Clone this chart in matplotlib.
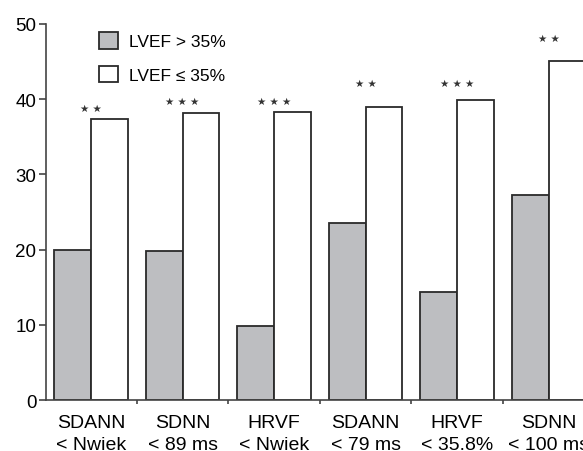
import numpy as np
import matplotlib
matplotlib.use("Agg")
import matplotlib.pyplot as plt
from matplotlib.ticker import FixedLocator

plt.rcParams['font.family'] = ['Liberation Sans Narrow', 'Liberation Sans', 'DejaVu Sans']

# data
categories = ["SDANN\n< Nwiek", "SDNN\n< 89 ms", "HRVF\n< Nwiek",
              "SDANN\n< 79 ms", "HRVF\n< 35.8%", "SDNN\n< 100 ms"]
lvef_high = [20.0, 19.8, 9.8, 23.5, 14.4, 27.3]    # LVEF > 35%
lvef_low = [37.4, 38.1, 38.3, 38.9, 39.9, 45.1]    # LVEF <= 35%
stars = ["★ ★", "★ ★ ★", "★ ★ ★", "★ ★", "★ ★ ★", "★ ★"]
star_y = [38.9, 39.8, 39.8, 42.1, 42.1, 48.1]

gray = "#bdbec1"
edge = "#2a2a2a"
w = 0.404

fig = plt.figure(figsize=(5.83, 4.52), dpi=100)
ax = fig.add_axes([0.0789, 0.1128, 0.9211, 0.8319])

x = np.arange(len(categories))
ax.bar(x - w / 2, lvef_high, w, color=gray, edgecolor=edge, linewidth=1.3,
       label="LVEF > 35%")
ax.bar(x + w / 2, lvef_low, w, color="white", edgecolor=edge, linewidth=1.3,
       label="LVEF ≤ 35%")

for xi, s, sy in zip(x, stars, star_y):
    ax.text(xi, sy, s, ha="center", va="center", fontsize=7.5,
            color="#333333", family=['DejaVu Sans'])

ax.set_xlim(-0.492, 5.377)
ax.set_ylim(0, 50)
ax.set_yticks(range(0, 51, 10))
ax.set_xticks(x)
ax.set_xticklabels(categories, fontsize=14, linespacing=1.4)
ax.xaxis.set_minor_locator(FixedLocator(x[:-1] + 0.5))
ax.tick_params(axis="x", which="major", length=0, pad=10)
ax.tick_params(axis="x", which="minor", length=3, width=1.2, color="#444444")
ax.tick_params(axis="y", length=5, width=1.2, color="#444444", labelsize=13.5, pad=2)

for side in ["top", "right"]:
    ax.spines[side].set_visible(False)
for side in ["left", "bottom"]:
    ax.spines[side].set_linewidth(1.2)
    ax.spines[side].set_color("#444444")

ax.legend(loc="upper left", bbox_to_anchor=(0.07, 1.02), frameon=False,
          fontsize=12.5, handlelength=1.1, handleheight=1.1,
          labelspacing=0.95, handletextpad=0.6)

fig.savefig("out.png", dpi=100)
